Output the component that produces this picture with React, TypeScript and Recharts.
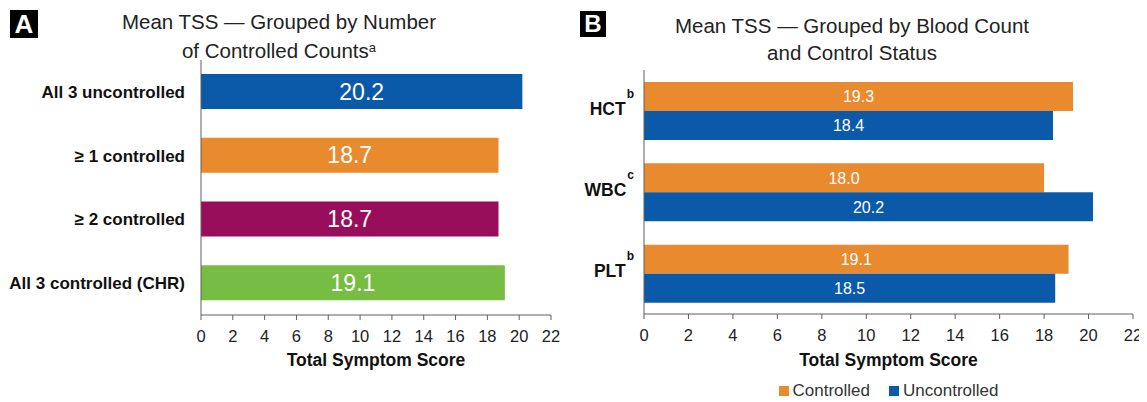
import { Bar, BarChart, Cell, LabelList, Legend, XAxis, YAxis } from "recharts";

// panel A: mean TSS by number of controlled counts
const groupLabels = ["All 3 uncontrolled", "≥ 1 controlled", "≥ 2 controlled", "All 3 controlled (CHR)"];
const groupTss = [20.2, 18.7, 18.7, 19.1];

// panel B: mean TSS by blood count and control status
const countLabels = ["HCT", "WBC", "PLT"];
const countNotes = ["b", "c", "b"];
const controlledTss = [19.3, 18.0, 19.1];
const uncontrolledTss = [18.4, 20.2, 18.5];

const scoreTicks = [0, 2, 4, 6, 8, 10, 12, 14, 16, 18, 20, 22];

const BLUE = "#0b5aa9";
const ORANGE = "#e98a2f";
const groupColors = [BLUE, ORANGE, "#990e5a", "#77bd43"];
const AXIS = "#5f5f5f";
const FONT = "'Liberation Sans', Arial, sans-serif";

const groupData = groupLabels.map((name, i) => ({ name, tss: groupTss[i] }));
const countData = countLabels.map((name, i) => ({
  name,
  note: countNotes[i],
  controlled: controlledTss[i],
  uncontrolled: uncontrolledTss[i],
}));

const fmt = (v: any) => Number(v).toFixed(1);

function CountTick(props: any) {
  const { x, y, payload, index } = props;
  return (
    <text x={x} y={y} textAnchor="end" fontFamily={FONT} fontWeight="bold" fontSize={17.5} fill="#111">
      <tspan dy={4}>{payload.value}</tspan>
      <tspan dx={1} dy={-17} fontSize={12}>{countNotes[index]}</tspan>
    </text>
  );
}

function CountLegend(props: any) {
  const items = props.payload || [];
  return (
    <div style={{ display: "flex", justifyContent: "center", gap: 19, fontFamily: FONT, fontSize: 17, lineHeight: "20px", color: "#333" }}>
      {items.map((it: any) => (
        <span key={it.value} style={{ display: "inline-flex", alignItems: "center" }}>
          <span style={{ width: 10, height: 10, background: it.color, marginRight: 4, display: "inline-block" }} />
          {it.value}
        </span>
      ))}
    </div>
  );
}

function PanelTag({ letter, left, top, size }: { letter: string; left: number; top: number; size: number }) {
  return (
    <div
      style={{
        position: "absolute",
        left,
        top,
        width: size,
        height: size,
        background: "#000",
        color: "#fff",
        fontFamily: FONT,
        fontWeight: "bold",
        fontSize: size - 2,
        lineHeight: `${size}px`,
        textAlign: "center",
      }}
    >
      {letter}
    </div>
  );
}

const axisTitle = (value: string) => ({
  value,
  position: "insideBottom" as const,
  offset: 4,
  fill: "#111",
  fontSize: 17.5,
  fontWeight: "bold",
  fontFamily: FONT,
});

export default function App() {
  return (
    <div style={{ position: "relative", marginTop: -8, marginLeft: -8, width: 1147, height: 402, background: "#fff", fontFamily: FONT }}>
      <PanelTag letter="A" left={10} top={10} size={28} />
      <div style={{ position: "absolute", left: 29, top: 9, width: 500, textAlign: "center", fontSize: 20.5, lineHeight: "26px", color: "#222" }}>
        Mean TSS — Grouped by Number
        <br />
        of Controlled Counts<span style={{ fontSize: 13, verticalAlign: 6 }}>a</span>
      </div>

      <div style={{ position: "absolute", left: 0, top: 0 }}>
        <BarChart width={570} height={402} data={groupData} layout="vertical" margin={{ top: 60, right: 19, bottom: 32, left: 0 }}>
          <XAxis
            type="number"
            domain={[0, 22]}
            ticks={scoreTicks}
            interval={0}
            stroke={AXIS}
            tickSize={5}
            tickMargin={10}
            height={55}
            tick={{ fill: "#222", fontSize: 16.5, fontFamily: FONT }}
            label={axisTitle("Total Symptom Score")}
          />
          <YAxis
            type="category"
            dataKey="name"
            width={201}
            stroke={AXIS}
            tickLine={false}
            tickSize={0}
            tickMargin={16}
            tick={{ fill: "#111", fontSize: 17, fontWeight: "bold", fontFamily: FONT }}
          />
          <Bar dataKey="tss" barSize={35} isAnimationActive={false}>
            {groupData.map((d, i) => (
              <Cell key={d.name} fill={groupColors[i]} />
            ))}
            <LabelList dataKey="tss" position="center" formatter={fmt} fill="#fff" fontSize={23} fontFamily={FONT} />
          </Bar>
        </BarChart>
      </div>

      <PanelTag letter="B" left={580} top={11} size={26} />
      <div style={{ position: "absolute", left: 602, top: 12, width: 500, textAlign: "center", fontSize: 20.5, lineHeight: "27px", color: "#222" }}>
        Mean TSS — Grouped by Blood Count
        <br />
        and Control Status
      </div>

      <div style={{ position: "absolute", left: 580, top: 0 }}>
        <BarChart width={567} height={402} data={countData} layout="vertical" barGap={0} margin={{ top: 70, right: 14, bottom: 32, left: 0 }}>
          <XAxis
            type="number"
            domain={[0, 22]}
            ticks={scoreTicks}
            interval={0}
            stroke={AXIS}
            tickSize={5}
            tickMargin={10}
            height={56}
            tick={{ fill: "#222", fontSize: 16.5, fontFamily: FONT }}
            label={axisTitle("Total Symptom Score")}
          />
          <YAxis type="category" dataKey="name" width={64} stroke={AXIS} tickLine={false} tickSize={0} tickMargin={10} tick={<CountTick />} />
          <Legend
            layout="horizontal"
            verticalAlign="middle"
            align="center"
            content={<CountLegend />}
            wrapperStyle={{ top: 381, left: 64, width: 489 }}
          />
          <Bar dataKey="controlled" name="Controlled" fill={ORANGE} barSize={29} isAnimationActive={false}>
            <LabelList dataKey="controlled" position="center" formatter={fmt} fill="#fff" fontSize={16} fontFamily={FONT} />
          </Bar>
          <Bar dataKey="uncontrolled" name="Uncontrolled" fill={BLUE} barSize={29} isAnimationActive={false}>
            <LabelList dataKey="uncontrolled" position="center" formatter={fmt} fill="#fff" fontSize={16} fontFamily={FONT} />
          </Bar>
        </BarChart>
      </div>
    </div>
  );
}
